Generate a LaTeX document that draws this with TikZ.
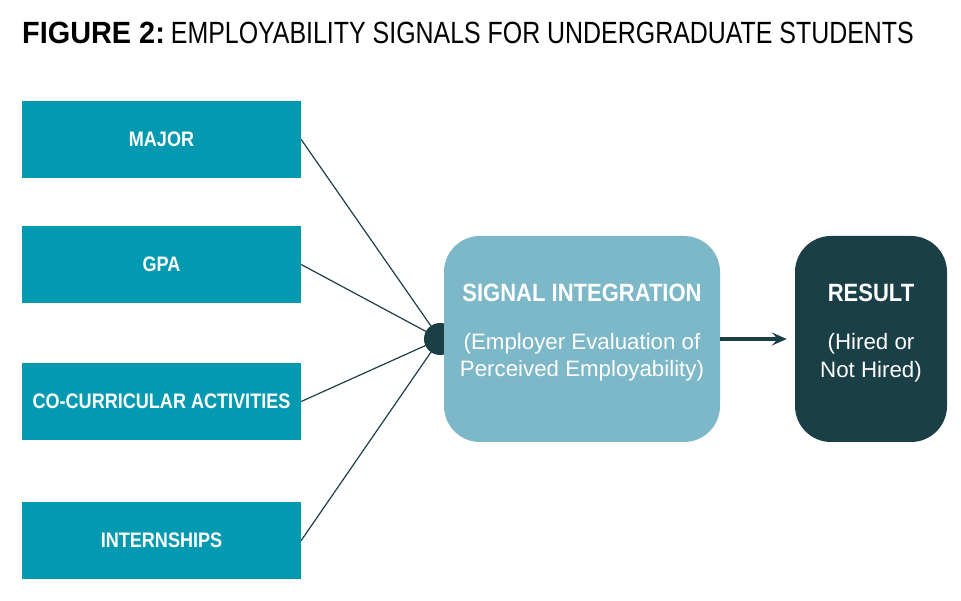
\documentclass[tikz,border=0pt]{standalone}
\usepackage{fontspec}
\setmainfont{Liberation Sans}
\newfontfamily\ftitlereg{Liberation Sans}[FakeStretch=0.812]
\newfontfamily\ftitlebold{Liberation Sans}[FakeStretch=0.94]
\newfontfamily\flabel{Liberation Sans}[FakeStretch=0.86]
\newfontfamily\fhead{Liberation Sans}[FakeStretch=0.88]
\newfontfamily\fbody{Liberation Sans}[FakeStretch=1.0]
\usetikzlibrary{arrows.meta}
\definecolor{tealbox}{HTML}{0399B0}
\definecolor{lightbox}{HTML}{7DB8C9}
\definecolor{darkbox}{HTML}{1A3F47}
\definecolor{linecol}{HTML}{1E3F46}
\begin{document}
\begin{tikzpicture}[x=1pt,y=1pt,
  signal/.style={fill=tealbox, draw=none, minimum width=279pt, minimum height=77pt, inner sep=0pt,
    text=white, font=\flabel\bfseries\fontsize{21}{24}\selectfont},
  bigbox/.style={draw=none, minimum height=206pt, rounded corners=36pt, inner sep=0pt},
  headtxt/.style={anchor=base, inner sep=0pt, text=white, font=\fhead\bfseries\fontsize{25}{28}\selectfont},
  bodytxt/.style={anchor=base, inner sep=0pt, text=white, font=\fbody\fontsize{22.3}{27}\selectfont},
  conn/.style={draw=linecol, line width=1.2pt},
]
\useasboundingbox (0,0) rectangle (961,600);
\node[anchor=base west, inner sep=0pt, font=\fontsize{30.7}{34}\selectfont] (title) at (22,556)
  {{\ftitlebold\bfseries FIGURE 2:}\hspace{6pt}{\ftitlereg EMPLOYABILITY SIGNALS FOR UNDERGRADUATE STUDENTS}};

\node[signal] (major) at (161.5,460.5) {MAJOR};
\node[signal] (gpa) at (161.5,335.5) {GPA};
\node[signal] (cocurr) at (161.5,198.5) {CO-CURRICULAR ACTIVITIES};
\node[signal] (intern) at (161.5,59.5) {INTERNSHIPS};

\node[circle, fill=darkbox, minimum size=32pt, inner sep=0pt] (dot) at (440,261) {};

\foreach \n in {major,gpa,cocurr,intern}
  \draw[conn] (\n.east) -- (dot.center);

\node[bigbox, fill=lightbox, minimum width=276pt] (integ) at (582,261) {};
\node[headtxt] (integh) at (582,298) {SIGNAL INTEGRATION};
\node[bodytxt] (intega) at (582,250) {(Employer Evaluation of};
\node[bodytxt] (integb) at (582,223) {Perceived Employability)};

\node[bigbox, fill=darkbox, minimum width=152pt] (result) at (871,261) {};
\node[headtxt] (resulth) at (871,298) {RESULT};
\node[bodytxt] (resulta) at (871,250) {(Hired or};
\node[bodytxt] (resultb) at (871,222) {Not Hired)};

\draw[draw=darkbox, line width=4pt, -{Stealth[length=15pt,width=13pt,inset=6pt]}]
  (integ.east) -- ([xshift=-8pt]result.west);
\end{tikzpicture}
\end{document}
